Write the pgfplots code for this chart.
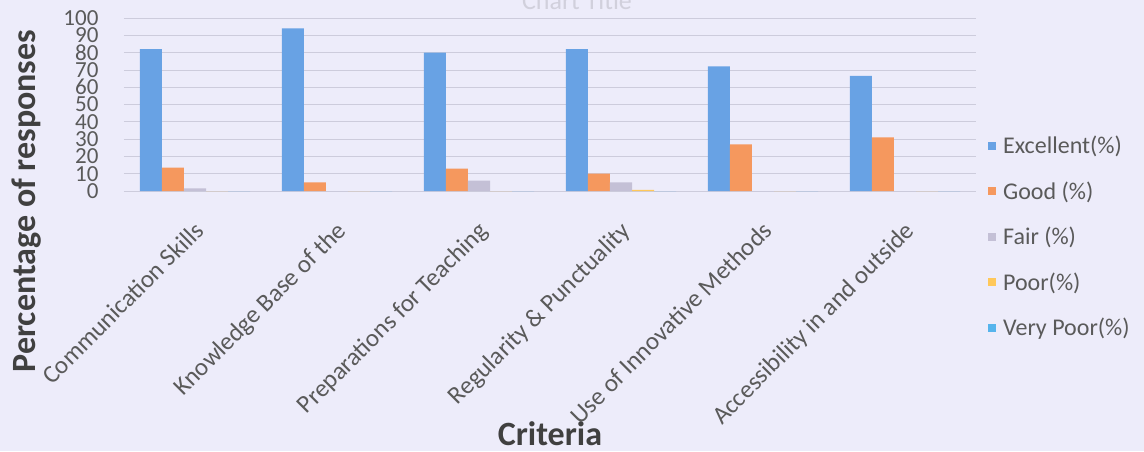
\documentclass[border=0pt]{standalone}
\usepackage{pgfplots}
\pgfplotsset{compat=1.18}
\usepackage{fontspec}
\setmainfont{Carlito}
\definecolor{bg}{RGB}{237,236,250}
\definecolor{cExc}{RGB}{104,162,228}
\definecolor{cGood}{RGB}{245,152,94}
\definecolor{cFair}{RGB}{196,192,214}
\definecolor{cPoor}{RGB}{255,200,90}
\definecolor{cVP}{RGB}{86,180,236}
\definecolor{gridc}{RGB}{205,204,220}
\definecolor{txt}{RGB}{90,90,90}
\definecolor{lab}{RGB}{64,64,64}
\begin{document}
\begin{tikzpicture}[x=1pt,y=1pt]
\useasboundingbox (-124,-260) rectangle (1020,191);
\fill[bg] (-124,-260) rectangle (1020,191);
\node[text=bg!88!black, font=\fontsize{26}{26}\selectfont] at (453,190) {Chart Title};
\begin{axis}[
  scale only axis,
  width=852pt, height=173pt,
  xmin=-0.5, xmax=5.5,
  ymin=0, ymax=100,
  ytick={0,10,...,100},
  xtick={0,1,2,3,4,5},
  xticklabels={Communication Skills, Knowledge Base of the, Preparations for Teaching, Regularity \& Punctuality, Use of Innovative Methods, Accessibility in and outside},
  ybar=0pt,
  bar width=0.155,
  ymajorgrids,
  grid style={gridc, line width=0.8pt},
  axis line style={draw=none},
  tick style={draw=none},
  /pgf/number format/assume math mode=true,
  yticklabel style={font=\fontsize{23}{23}\selectfont, text=txt, xshift=-22pt},
  xticklabel style={font=\fontsize{25}{25}\selectfont, text=txt, xshift=-2pt, yshift=-20pt, rotate=45, anchor=north east},
  ylabel={Percentage of responses},
  xlabel={Criteria},
  every axis y label/.style={at={(axis description cs:-0.114,-0.058)}, rotate=90, anchor=center, font=\fontsize{34}{34}\bfseries, text=lab},
  every axis x label/.style={at={(axis description cs:0.5,-1.40)}, anchor=center, font=\fontsize{34}{34}\bfseries, text=lab},
  legend style={at={(axis description cs:1.014,0.33)}, anchor=north west, draw=none, fill=none, font=\fontsize{24}{24}\selectfont, text=txt, row sep=22.5pt, inner sep=0pt},
  legend cell align=left,
  legend image code/.code={\fill[#1] (0pt,-4pt) rectangle (8pt,4pt); \path (13pt,0pt);},
]
\addplot[fill=cExc, draw=none] coordinates {(0,82) (1,94) (2,80) (3,82) (4,72) (5,66.5)};
\addplot[fill=cGood, draw=none] coordinates {(0,13.5) (1,5) (2,13) (3,10) (4,27) (5,31)};
\addplot[fill=cFair, draw=none] coordinates {(0,1.5) (1,0) (2,6) (3,5) (4,0) (5,0)};
\addplot[fill=cPoor, draw=none] coordinates {(0,0) (1,0) (2,0) (3,0.7) (4,0) (5,0)};
\addplot[fill=cVP, draw=none] coordinates {(0,0) (1,0) (2,0) (3,0) (4,0) (5,0)};
\legend{Excellent(\%), Good (\%), Fair (\%), Poor(\%), Very Poor(\%)}
\end{axis}
\end{tikzpicture}
\end{document}
